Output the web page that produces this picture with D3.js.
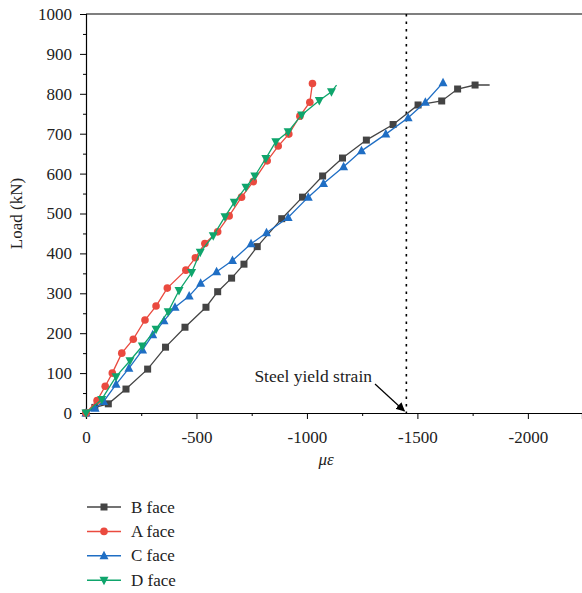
<!DOCTYPE html>
<html>
<head>
<meta charset="utf-8">
<script src="https://cdn.jsdelivr.net/npm/d3@7"></script>
<style>
  html, body { margin: 0; padding: 0; background: #fff; }
  svg text { font-family: "Liberation Serif", "DejaVu Serif", serif; fill: #222; }
</style>
</head>
<body>
<div id="vis"></div>
<script>
// strain (microstrain, negative = compression) and load (kN) per face
const bStrain = [0, -40, -101, -181, -279, -360, -448, -543, -596, -659, -715, -775, -886, -980, -1071, -1161, -1269, -1390, -1503, -1610, -1682, -1761, -1827];
const bLoad   = [0, 14, 23, 60, 110, 165, 215, 265, 304, 338, 373, 417, 487, 541, 594, 639, 684, 723, 772, 782, 812, 822, 822];

const aStrain = [0, -50, -87, -119, -162, -214, -267, -317, -368, -452, -495, -538, -596, -648, -704, -757, -820, -870, -918, -968, -1013, -1025];
const aLoad   = [0, 31, 67, 100, 150, 185, 233, 268, 313, 358, 389, 425, 454, 494, 541, 580, 632, 669, 699, 744, 779, 826];

const cStrain = [0, -41, -80, -136, -194, -256, -302, -353, -403, -467, -519, -591, -663, -747, -817, -915, -1006, -1075, -1166, -1247, -1357, -1458, -1536, -1616];
const cLoad   = [0, 12, 29, 72, 112, 158, 196, 231, 265, 293, 325, 354, 382, 424, 452, 490, 541, 575, 617, 657, 699, 740, 779, 828];

const dStrain = [0, -71, -136, -199, -255, -317, -372, -421, -478, -517, -576, -629, -671, -724, -764, -814, -859, -915, -976, -1056, -1111, -1134];
const dLoad   = [0, 34, 91, 131, 168, 210, 254, 307, 352, 403, 444, 492, 528, 566, 594, 638, 680, 705, 747, 783, 805, 822];

const seriesNames = ['B face', 'A face', 'C face', 'D face'];
const seriesColors = ['#444444', '#ea4a3f', '#1f6ec4', '#0fa56c'];
const seriesMarkers = ['square', 'circle', 'triUp', 'triDown'];
const unmarkedTail = [true, false, false, true]; // last point has no marker

const yieldStrain = -1450;
const xTicks = [0, -500, -1000, -1500, -2000];
const yTicks = [0, 100, 200, 300, 400, 500, 600, 700, 800, 900, 1000];

const W = 582, H = 593;
const FS = 17;

const svg = d3.select('#vis').append('svg')
  .attr('width', W).attr('height', H);

const x = d3.scaleLinear().domain([0, -2245]).range([86, W]);
const y = d3.scaleLinear().domain([0, 1000]).range([413, 14]);

const fmt = d => d === 0 ? '0' : (d < 0 ? '-' : '') + Math.abs(d);

// frame: top border
svg.append('line')
  .attr('x1', x(0)).attr('x2', W).attr('y1', y(1000)).attr('y2', y(1000))
  .attr('stroke', '#000').attr('stroke-width', 1.2);

// y axis
svg.append('g').attr('transform', `translate(${x(0)},0)`)
  .call(d3.axisLeft(y).tickValues(yTicks).tickSize(6).tickPadding(8).tickFormat(fmt));
svg.append('g').attr('transform', `translate(${x(0)},0)`)
  .call(d3.axisLeft(y).tickValues(d3.range(50, 1000, 100)).tickSize(3).tickFormat(''))
  .call(g => g.select('.domain').remove());

// x axis
svg.append('g').attr('transform', `translate(0,${y(0)})`)
  .call(d3.axisBottom(x).tickValues(xTicks).tickSize(6).tickPadding(12).tickFormat(fmt));
svg.append('g').attr('transform', `translate(0,${y(0)})`)
  .call(d3.axisBottom(x).tickValues([-250, -750, -1250, -1750]).tickSize(3).tickFormat(''))
  .call(g => g.select('.domain').remove());

svg.selectAll('.domain').attr('stroke', '#000').attr('stroke-width', 1.2);
svg.selectAll('.tick line').attr('stroke', '#000').attr('stroke-width', 1);
svg.selectAll('.tick text')
  .style('font-family', '"Liberation Serif", "DejaVu Serif", serif')
  .style('font-size', FS + 'px').attr('fill', '#222');

// axis titles
svg.append('text')
  .attr('transform', `translate(22,${(y(0) + y(1000)) / 2}) rotate(-90)`)
  .attr('text-anchor', 'middle').attr('font-size', FS)
  .text('Load (kN)');
svg.append('text')
  .attr('x', 326).attr('y', 465)
  .attr('text-anchor', 'middle').attr('font-size', FS).attr('font-style', 'italic')
  .text('με');

// yield strain line
svg.append('line')
  .attr('x1', x(yieldStrain)).attr('x2', x(yieldStrain))
  .attr('y1', y(1000)).attr('y2', y(0))
  .attr('stroke', '#000').attr('stroke-width', 1.6).attr('stroke-dasharray', '2.5,5');

// annotation
svg.append('defs').append('marker')
  .attr('id', 'arr').attr('viewBox', '0 0 10 10').attr('refX', 9).attr('refY', 5)
  .attr('markerWidth', 9).attr('markerHeight', 9).attr('orient', 'auto')
  .attr('markerUnits', 'userSpaceOnUse')
  .append('path').attr('d', 'M0,0 L10,5 L0,10 z').attr('fill', '#000');
svg.append('text')
  .attr('x', 372).attr('y', 382).attr('text-anchor', 'end').attr('font-size', 17.5)
  .text('Steel yield strain');
svg.append('line')
  .attr('x1', 375).attr('y1', 384).attr('x2', x(yieldStrain) - 2).attr('y2', y(0) - 2)
  .attr('stroke', '#000').attr('stroke-width', 1.2).attr('marker-end', 'url(#arr)');

// marker drawing
function drawMarker(g, type, cx, cy, color) {
  if (type === 'square') {
    g.append('rect').attr('x', cx - 3.5).attr('y', cy - 3.5).attr('width', 7).attr('height', 7).attr('fill', color);
  } else if (type === 'circle') {
    g.append('circle').attr('cx', cx).attr('cy', cy).attr('r', 3.8).attr('fill', color);
  } else if (type === 'triUp') {
    g.append('path').attr('d', `M${cx},${cy - 5} L${cx + 4.5},${cy + 3.5} L${cx - 4.5},${cy + 3.5} Z`).attr('fill', color);
  } else {
    g.append('path').attr('d', `M${cx},${cy + 5} L${cx + 4.5},${cy - 3.5} L${cx - 4.5},${cy - 3.5} Z`).attr('fill', color);
  }
}

const allSeries = [
  bStrain.map((s, i) => [s, bLoad[i]]),
  aStrain.map((s, i) => [s, aLoad[i]]),
  cStrain.map((s, i) => [s, cLoad[i]]),
  dStrain.map((s, i) => [s, dLoad[i]])
];

const line = d3.line().x(d => x(d[0])).y(d => y(d[1]));

// draw B and C first, then A and D on top
[0, 2, 1, 3].forEach(k => {
  const pts = allSeries[k];
  const g = svg.append('g');
  g.append('path').datum(pts).attr('d', line)
    .attr('fill', 'none').attr('stroke', seriesColors[k]).attr('stroke-width', 1.3);
  pts.forEach((p, i) => {
    if (unmarkedTail[k] && i === pts.length - 1) return;
    drawMarker(g, seriesMarkers[k], x(p[0]), y(p[1]), seriesColors[k]);
  });
});

// legend
const legend = svg.append('g');
seriesNames.forEach((name, i) => {
  const ly = 507 + i * 24.4;
  legend.append('line').attr('x1', 87).attr('x2', 121).attr('y1', ly).attr('y2', ly)
    .attr('stroke', seriesColors[i]).attr('stroke-width', 1.5);
  drawMarker(legend, seriesMarkers[i], 104, ly, seriesColors[i]);
  legend.append('text').attr('x', 131).attr('y', ly + 5.5).attr('font-size', FS).text(name);
});
</script>
</body>
</html>
